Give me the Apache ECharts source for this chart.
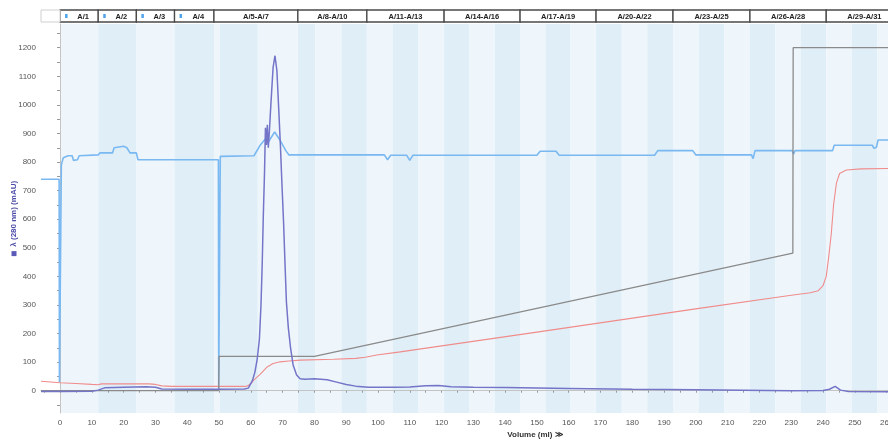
<!DOCTYPE html>
<html>
<head>
<meta charset="utf-8">
<script src="https://cdn.jsdelivr.net/npm/echarts@6/dist/echarts.min.js"></script>
<style>
html,body{margin:0;padding:0;background:#fff;}
#chart{width:888px;height:441px;}
</style>
</head>
<body>
<div id="chart"></div>
<script>
// ---- axis ranges & ticks ----
const xMin = -6, xMax = 262;
const yMin = -78, yMax = 1283;
const xLabelValues = [0,10,20,30,40,50,60,70,80,90,100,110,120,130,140,150,160,170,180,190,200,210,220,230,240,250,260];
const xTickValues = [-5,0,5,10,15,20,25,30,35,40,45,50,55,60,65,70,75,80,85,90,95,100,105,110,115,120,125,130,135,140,145,150,155,160,165,170,175,180,185,190,195,200,205,210,215,220,225,230,235,240,245,250,255,260];
const yLabelValues = [0,100,200,300,400,500,600,700,800,900,1000,1100,1200];
const yTickValues = [-50,0,50,100,150,200,250,300,350,400,450,500,550,600,650,700,750,800,850,900,950,1000,1050,1100,1150,1200,1250];

// ---- fractions (background stripes) ----
const fractionEdges = [0,12,24,36,48.4,50.3,62.2,74.8,80.3,88.5,96.5,104.6,112.7,120.8,128.8,136.7,144.7,152.7,160.6,168.6,176.7,184.7,192.8,200.9,208.9,217,225,233,241,249,257,265];

// ---- header fraction groups ----
const headerStarts = [0,12,24,36,48.4,74.8,96.5,120.8,144.7,168.6,192.8,217,241];
const headerEnds   = [12,24,36,48.4,74.8,96.5,120.8,144.7,168.6,192.8,217,241,265];
const headerLabels = ['A/1','A/2','A/3','A/4','A/5-A/7','A/8-A/10','A/11-A/13','A/14-A/16','A/17-A/19','A/20-A/22','A/23-A/25','A/26-A/28','A/29-A/31'];
const headerMarked = [1,1,1,1,0,0,0,0,0,0,0,0,0];

// ---- traces [volume ml, mAU] ----
const uvTrace = [[-6,-3],[0,-3],[10,-2],[12,2],[14,10],[20,12],[27,14],[30,12],[32,6],[40,5],[50,5],[58,6],[59.2,9],[60.5,35],[61.3,66],[62,110],[62.7,180],[63.2,300],[63.6,450],[63.9,600],[64.3,760],[64.6,920],[64.9,860],[65.2,930],[65.5,850],[65.8,900],[66.3,1000],[67,1130],[67.6,1172],[68.2,1120],[68.8,980],[69.3,860],[69.8,720],[70.3,590],[70.8,430],[71.2,310],[71.8,220],[72.5,150],[73.3,90],[74.4,55],[75.5,42],[77,40],[80,42],[84,38],[87,30],[90,22],[93,16],[97,12],[105,12],[110,13],[115,17],[119,18],[123,14],[130,12],[140,11],[160,8],[180,5],[200,3],[230,0],[240,1],[242,5],[243.8,15],[245.5,2],[248,-3],[262,-4]];

const blueTrace = [[-6,740],[-0.3,740],[-0.2,30],[0.2,30],[0.4,790],[1,815],[2.5,822],[3.8,822],[4.2,806],[5.5,808],[6,822],[12,825],[12.5,832],[16.5,832],[17,850],[20,855],[21,850],[22,832],[24,832],[24.5,808],[49.8,808],[49.9,5],[50.2,5],[50.4,820],[61,822],[63,860],[64.5,880],[65.5,870],[67.5,905],[69,880],[71,840],[72,825],[102,825],[103,808],[104,824],[109,824],[110,806],[111,824],[150,824],[151,838],[156,838],[157,824],[187,824],[188,840],[199,840],[200,825],[217.5,825],[218,812],[218.6,840],[230.3,840],[230.7,828],[231.2,840],[243,840],[243.5,859],[255.5,859],[256,848],[256.8,852],[257.3,877],[262,877]];

const redTrace = [[-6,33],[0,28],[5,25],[10,22],[12,21],[13,24],[28,24],[30,22],[32,17],[35,15],[50,15],[58,15],[59,17],[60,25],[61,38],[63,58],[65,82],[67,95],[69.2,101],[72,104],[75.5,107],[86,110],[93,113],[96,117],[99.6,125],[107,136],[150,205],[201,288],[230,334],[236,343],[238.5,350],[240,368],[241,400],[241.8,470],[242.6,551],[243.3,650],[244.2,726],[245.2,760],[247.3,772],[252,776],[262,778]];

const concTrace = [[-6,0],[49.9,0],[50,120],[80,120],[230.5,481],[230.6,1200],[262,1200]];

// ---- build ----
const stripeData = [];
for (let i = 0; i < fractionEdges.length - 1; i++) {
  stripeData.push([fractionEdges[i], fractionEdges[i+1], i % 2]);
}
const headerData = headerStarts.map((s, i) => [s, headerEnds[i], i, headerMarked[i]]);

const chart = echarts.init(document.getElementById('chart'), null, {renderer: 'canvas'});
const FONT = 'Liberation Sans, Arial, sans-serif';

chart.setOption({
  animation: false,
  backgroundColor: '#ffffff',
  grid: {left: 41, top: 24, width: 852, height: 389, containLabel: false, outerBoundsMode: 'none'},
  xAxis: {
    type: 'value', min: xMin, max: xMax,
    name: 'Volume (ml) \u226B', nameLocation: 'middle', nameGap: 18, nameMoveOverlap: false,
    nameTextStyle: {fontFamily: FONT, fontSize: 8, fontWeight: 'bold', color: '#333', padding: [0,0,0,136]},
    axisLine: {show: true, lineStyle: {color: '#c4c4c4', width: 1}},
    axisTick: {show: true, length: 2, customValues: xTickValues, lineStyle: {color: '#999'}},
    axisLabel: {customValues: xLabelValues, fontFamily: FONT, fontSize: 8, color: '#555', margin: 6,
      formatter: function (v) { return String(v); }},
    splitLine: {show: false}
  },
  yAxis: {
    type: 'value', min: yMin, max: yMax,
    name: '{sq|}  \u03BB (280 nm) (mAU)', nameLocation: 'middle', nameGap: 23, nameMoveOverlap: false,
    nameTextStyle: {fontFamily: FONT, fontSize: 8, fontWeight: 'bold', color: '#4b4ba8',
      rich: {sq: {width: 5, height: 5, backgroundColor: '#5a5ab8'}}},
    axisLine: {show: true, lineStyle: {color: '#c4c4c4', width: 1}},
    axisTick: {show: true, length: 3, customValues: yTickValues, lineStyle: {color: '#999'}},
    axisLabel: {customValues: yLabelValues, fontFamily: FONT, fontSize: 8, color: '#555', margin: 5,
      formatter: function (v) { return String(v); }},
    splitLine: {show: false}
  },
  series: [
    {
      type: 'custom', name: 'fractions', z: 0, silent: true, clip: true,
      data: stripeData,
      renderItem: function (params, api) {
        const x0 = api.coord([api.value(0), 0])[0];
        const x1 = api.coord([api.value(1), 0])[0];
        const cs = params.coordSys;
        return {type: 'rect', shape: {x: x0, y: cs.y, width: x1 - x0, height: cs.height},
          style: {fill: api.value(2) === 0 ? '#eef6fb' : '#e0eff7'}};
      }
    },
    {
      type: 'custom', name: 'header', z: 5, silent: true, clip: false,
      data: headerData,
      renderItem: function (params, api) {
        const x0 = api.coord([api.value(0), 0])[0];
        const x1 = api.coord([api.value(1), 0])[0];
        const cs = params.coordSys;
        const top = cs.y - 14, h = 12;
        const idx = api.value(2);
        const marked = api.value(3) === 1;
        const children = [
          {type: 'rect', shape: {x: x0, y: top, width: x1 - x0, height: h},
            style: {fill: '#ffffff', stroke: '#4a4a4a', lineWidth: 1.3}},
          {type: 'text', style: {x: (x0 + x1) / 2 + (marked ? 4 : 0), y: top + h / 2 + 0.5,
            text: headerLabels[idx], align: 'center', verticalAlign: 'middle',
            fontFamily: FONT, fontSize: 7.5, fontWeight: 'bold', fill: '#222'}}
        ];
        if (marked) {
          children.push({type: 'rect', shape: {x: x0 + 5, y: top + 4, width: 2.5, height: 4},
            style: {fill: '#4fa3ee'}});
        }
        return {type: 'group', children: children};
      }
    },
    {
      type: 'custom', name: 'headerBlank', z: 5, silent: true, clip: false,
      data: [[xMin, 0]],
      renderItem: function (params, api) {
        const x0 = api.coord([api.value(0), 0])[0];
        const x1 = api.coord([api.value(1), 0])[0];
        const cs = params.coordSys;
        return {type: 'rect', shape: {x: x0, y: cs.y - 14, width: x1 - x0, height: 12},
          style: {fill: '#ffffff', stroke: '#d0d0d0', lineWidth: 1}};
      }
    },
    {type: 'line', name: 'blue', data: blueTrace, showSymbol: false, z: 2,
      lineStyle: {color: '#7ab8f2', width: 1.6}, itemStyle: {color: '#7ab8f2'}},
    {type: 'line', name: 'red', data: redTrace, showSymbol: false, z: 3,
      lineStyle: {color: '#f08c8c', width: 1.1}, itemStyle: {color: '#f08c8c'}},
    {type: 'line', name: 'conc', data: concTrace, showSymbol: false, z: 3,
      lineStyle: {color: '#8a8a8a', width: 1.3}, itemStyle: {color: '#8a8a8a'}},
    {type: 'line', name: 'uv', data: uvTrace, showSymbol: false, z: 4,
      lineStyle: {color: '#7474c8', width: 1.5}, itemStyle: {color: '#7474c8'}}
  ]
});
</script>
</body>
</html>
